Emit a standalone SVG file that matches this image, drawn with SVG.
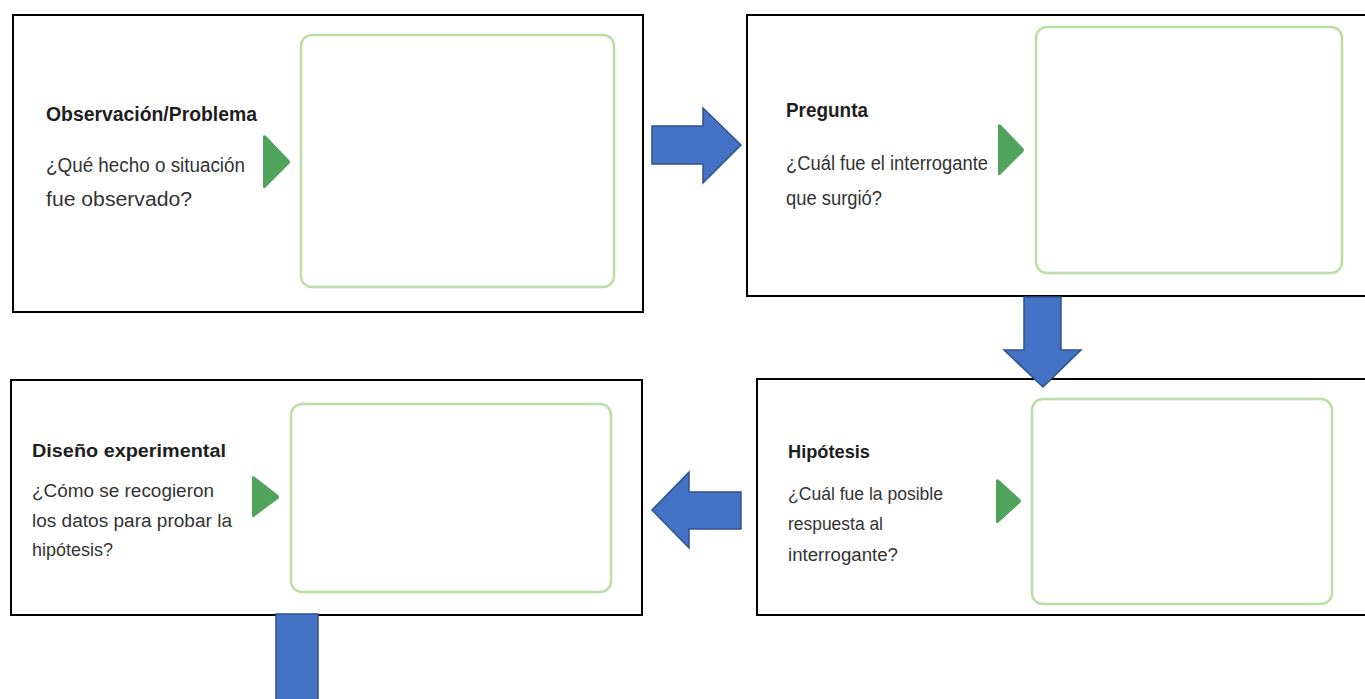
<svg xmlns="http://www.w3.org/2000/svg" width="1365" height="699" viewBox="0 0 1365 699">
<style>
.box{fill:#fff;stroke:#000;stroke-width:2}
.ans{fill:none;stroke:#b9dfa6;stroke-width:2.5}
.tri{fill:#4fa35a}
.t{font-family:"Liberation Sans",Arial,sans-serif;font-weight:bold;fill:#1e1e1e}
.b{font-family:"Liberation Sans",Arial,sans-serif;fill:#333}
.arr{fill:#4472c4;stroke:#2f528f;stroke-width:1.5}
</style>
<rect width="1365" height="699" fill="#fff"/>
<g id="node-observacion">
<rect class="box" x="13" y="15" width="630" height="297"/>
<rect class="ans" x="301" y="35" width="313" height="252" rx="11"/>
<path class="tri" d="M263 137 Q263 134 266 136 L289 160 Q291 162 289 164 L266 187 Q263 190 263 186 Z"/>
<text class="t" x="46" y="121" font-size="20" textLength="211" lengthAdjust="spacingAndGlyphs">Observación/Problema</text>
<text class="b" x="46" y="172" font-size="20" textLength="199" lengthAdjust="spacingAndGlyphs">¿Qué hecho o situación</text>
<text class="b" x="46" y="206" font-size="20" textLength="146" lengthAdjust="spacingAndGlyphs">fue observado?</text>
</g>
<g id="node-pregunta">
<rect class="box" x="747" y="15" width="620" height="281"/>
<rect class="ans" x="1036" y="27" width="306" height="246" rx="11"/>
<path class="tri" d="M998 126 Q998 123 1001 125 L1023 148 Q1025 150 1023 152 L1001 174 Q998 177 998 173 Z"/>
<text class="t" x="786" y="117" font-size="20" textLength="82" lengthAdjust="spacingAndGlyphs">Pregunta</text>
<text class="b" x="786" y="170" font-size="20" textLength="202" lengthAdjust="spacingAndGlyphs">¿Cuál fue el interrogante</text>
<text class="b" x="786" y="205" font-size="20" textLength="96" lengthAdjust="spacingAndGlyphs">que surgió?</text>
</g>
<g id="node-hipotesis">
<rect class="box" x="757" y="379" width="610" height="236"/>
<rect class="ans" x="1032" y="399" width="300" height="205" rx="11"/>
<path class="tri" d="M996 481 Q996 478 999 480 L1020 499 Q1022 501 1020 503 L999 522 Q996 525 996 521 Z"/>
<text class="t" x="788" y="458" font-size="18" textLength="82" lengthAdjust="spacingAndGlyphs">Hipótesis</text>
<text class="b" x="788" y="500" font-size="18" textLength="155" lengthAdjust="spacingAndGlyphs">¿Cuál fue la posible</text>
<text class="b" x="788" y="530" font-size="18" textLength="95" lengthAdjust="spacingAndGlyphs">respuesta al</text>
<text class="b" x="788" y="561" font-size="18" textLength="110" lengthAdjust="spacingAndGlyphs">interrogante?</text>
</g>
<g id="node-diseno">
<rect class="box" x="11" y="380" width="631" height="235"/>
<rect class="ans" x="291" y="404" width="320" height="188" rx="11"/>
<path class="tri" d="M252 478 Q252 475 255 477 L278 495 Q280 497 278 499 L255 516 Q252 519 252 515 Z"/>
<text class="t" x="32" y="457" font-size="18" textLength="194" lengthAdjust="spacingAndGlyphs">Diseño experimental</text>
<text class="b" x="32" y="497" font-size="18" textLength="182" lengthAdjust="spacingAndGlyphs">¿Cómo se recogieron</text>
<text class="b" x="32" y="527" font-size="18" textLength="200" lengthAdjust="spacingAndGlyphs">los datos para probar la</text>
<text class="b" x="32" y="556" font-size="18" textLength="81" lengthAdjust="spacingAndGlyphs">hipótesis?</text>
</g>
<g id="connectors">
<path class="arr" d="M652 126 L703 126 L703 108 L741 145 L703 183 L703 164 L652 164 Z"/>
<path class="arr" d="M1024 297 L1061 297 L1061 350 L1081 350 L1043 387 L1004 350 L1024 350 Z"/>
<path class="arr" d="M741 492 L689 492 L689 472 L652 510 L689 548 L689 529 L741 529 Z"/>
<path class="arr" d="M276 614 L318 614 L318 702 L276 702 Z"/>
</g>
</svg>
